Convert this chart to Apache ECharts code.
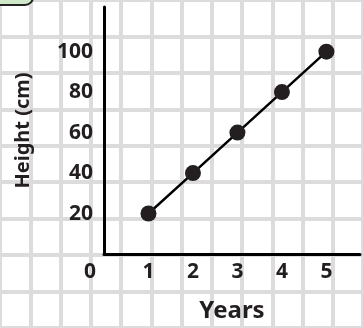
<!DOCTYPE html>
<html>
<head>
<meta charset="utf-8">
<script src="https://cdn.jsdelivr.net/npm/echarts@6/dist/echarts.min.js"></script>
<style>
html,body{margin:0;padding:0;background:#fff;}
#c{width:363px;height:328px;}
</style>
</head>
<body>
<div id="c"></div>
<script>
var years = [1, 2, 3, 4, 5];
var heights = [20, 40, 60, 80, 100];
var xTickLabels = [1, 2, 3, 4, 5];
var yTickLabels = [20, 40, 60, 80, 100];
var xTitle = 'Years';
var yTitle = 'Height (cm)';

var FONT = 'Noto Sans';
var INK = '#231f20';
var chart = echarts.init(document.getElementById('c'), null, {renderer: 'canvas'});
var pts = years.map(function (y, i) { return [y, heights[i]]; });

chart.setOption({
  backgroundColor: '#ffffff',
  animation: false,
  graphic: [{
    type: 'rect',
    shape: {x: -20, y: -30, width: 53, height: 35, r: 8},
    style: {fill: '#cfe9c8', stroke: '#222222', lineWidth: 2},
    z: 10
  }],
  grid: [
    {left: -31, top: -29.6, width: 540, height: 367.2, containLabel: false},
    {left: 104, right: 0, top: 7, bottom: 72, containLabel: false}
  ],
  xAxis: [
    {gridIndex: 0, type: 'value', min: -3, max: 9, interval: 1,
      axisLine: {show: false}, axisTick: {show: false}, axisLabel: {show: false},
      splitLine: {show: true, lineStyle: {color: '#dcdcdc', width: 4}}},
    {gridIndex: 1, type: 'value', min: 0, max: 259 / 45, interval: 1,
      axisLine: {show: true, lineStyle: {color: '#000', width: 3}},
      axisTick: {show: false}, splitLine: {show: false},
      axisLabel: {
        show: true, margin: 8, color: INK, fontFamily: FONT, fontWeight: 'bold', fontSize: 21,
        formatter: function (v) {
          if (v === 0) return '{z|0}';
          return xTickLabels.indexOf(v) >= 0 ? String(v) : '';
        },
        rich: {z: {fontFamily: FONT, fontWeight: 'bold', fontSize: 21, color: INK, padding: [0, 28, 0, 0]}}
      },
      name: xTitle, nameLocation: 'middle', nameGap: 45,
      nameTextStyle: {color: INK, fontFamily: FONT, fontWeight: 'bold', fontSize: 24}
    }
  ],
  yAxis: [
    {gridIndex: 0, type: 'value', min: -40, max: 140, interval: 20,
      axisLine: {show: false}, axisTick: {show: false}, axisLabel: {show: false},
      splitLine: {show: true, lineStyle: {color: '#dcdcdc', width: 4}}},
    {gridIndex: 1, type: 'value', min: 0, max: 249 / 2.04, interval: 20,
      axisLine: {show: true, lineStyle: {color: '#000', width: 3}},
      axisTick: {show: false}, splitLine: {show: false},
      axisLabel: {
        show: true, margin: 11, color: INK, fontFamily: FONT, fontWeight: 'bold', fontSize: 21,
        formatter: function (v) { return yTickLabels.indexOf(v) >= 0 ? String(v) : ''; }
      },
      name: yTitle, nameLocation: 'middle', nameGap: 71,
      nameTextStyle: {color: INK, fontFamily: FONT, fontWeight: 'bold', fontSize: 20}
    }
  ],
  series: [{
    type: 'line', xAxisIndex: 1, yAxisIndex: 1, data: pts,
    symbol: 'circle', symbolSize: 16,
    lineStyle: {color: '#000', width: 2.5},
    itemStyle: {color: INK},
    z: 5
  }]
});
</script>
</body>
</html>
